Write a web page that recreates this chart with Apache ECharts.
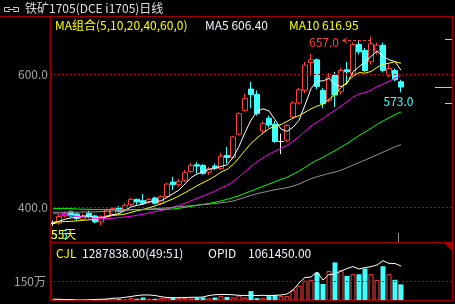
<!DOCTYPE html>
<html><head><meta charset="utf-8">
<script src="https://cdn.jsdelivr.net/npm/echarts@6/dist/echarts.min.js"></script>
<style>html,body{margin:0;padding:0;background:#000;}#c{width:455px;height:304px;}</style>
</head><body><div id="c"></div>
<script>
const categories = ['1','2','3','4','5','6','7','8','9','10','11','12','13','14','15','16','17','18','19','20','21','22','23','24','25','26','27','28','29','30','31','32','33','34','35','36','37','38','39','40','41','42','43','44','45','46','47','48','49','50','51','52','53','54','55','56','57','58','59'];
const opens  = [376,376,387,393,390,382,391,387,378,387, 389,399,395,404,412,410,408,414,406,416, 438,434,440,454,464,463,453,462,458,478, 475,510,546,578,570,515,534,525,499,501, 536,557,576,618,622,576,561,599,574,607, 601,645,636,619,635,644,599,606,589];
const closes = [376,386,391,387,383,387,386,378,386,396, 398,394,403,412,408,406,412,406,416,435, 434,439,452,463,462,451,458,459,477,475, 506,541,564,570,541,526,524,499,499,523, 557,577,614,622,582,556,596,569,606,604, 645,634,606,646,644,606,609,592,581];
const lows   = [372,374,385,385,380,380,383,376,373,385, 387,392,393,402,404,404,405,404,404,414, 426,431,438,452,451,449,449,456,456,466, 473,508,544,549,538,512,520,497,480,498, 533,555,572,598,578,549,558,551,570,586, 598,630,604,615,630,603,596,590,573];
const highs  = [380,390,394,395,392,390,395,389,388,398, 400,402,406,414,413,420,414,416,418,437, 446,443,456,467,468,465,461,466,482,491, 507,543,571,589,576,530,538,530,511,525, 560,580,619,631,624,580,602,604,610,619, 648,652,640,657,648,648,615,609,592];
const ma5  = [377,379,382,384,384.6,386.8,386.8,384.2,384,386.6, 388.8,390.4,395.4,400.6,403,404.6,408.2,408.8,409.6,415, 420.6,426,435.2,444.6,450,453.4,457.2,458.6,461.4,464, 475,491.6,512.6,531.2,544.4,548.4,545,532,517.8,514.2, 520.4,531,554,578.6,590.4,590.2,594,585,581.8,586.2, 604,611.6,619,627,635,627.2,622.2,619.4,606.4];
const ma10 = [377,378,378.5,379,379.5,380.5,381,382,383.5,385.6, 387.8,388.6,389.8,392.3,394.8,396.7,399.3,402.1,405.1,409, 412.6,417.1,422,427.1,432.5,437,441.6,446.9,453,457, 464.2,474.4,485.6,496.3,504.2,511.7,518.3,522.3,524.5,529.3, 534.4,538,543,548.2,552.3,555.3,562.5,569.5,580.2,588.3, 597.1,602.8,602,604.4,610.6,615.6,616.9,619.2,616.95];
const ma20 = [391,390,389,387.5,386,385,384,383.5,383,383, 383.5,384.5,385.5,386.5,388,389.5,391.5,393.3,395.2,397.3, 400.2,402.9,405.9,409.7,413.7,416.9,420.5,424.5,429.1,433, 438.4,445.8,453.8,461.7,468.4,474.4,480,484.6,488.8,493.2, 499.3,506.2,514.3,522.3,528.3,533.5,540.4,545.9,552.4,558.8, 565.8,570.4,572.5,576.3,581.5,585.5,589.7,594.4,598.5];
const ma40 = [398,398,398,398,397.5,397,397,396.5,396.5,396.5, 396.5,396.5,396.5,396.5,396.5,396.5,396.5,396.5,396.5,397, 397.5,398.5,400,401.5,403,404.5,406,407.5,409.5,412, 414.5,417.5,421,424.5,428,431.5,435,438.5,442,445.2, 449.8,454.5,460.1,466,471,475.2,480.4,485.2,490.7,495.9, 502.1,508.1,513.2,519,524.9,529.9,534.8,539.5,543.6];
const ma60 = [392.5,392.5,392.5,392.5,392.5,393,393,393,393.5,394, 394.5,395,395.5,396,396.5,397,397.5,398,398.5,399, 400,400.8,401.6,402.4,403.2,404,404.8,405.6,406.8,408, 409.5,412,415,418,420.5,422.5,424.5,426.5,428,429.5, 432,435,439,443,446,448.5,451,453,456,459.5, 463.5,467.5,471,475,479,483,487,491,494.5];
const volumes = [8,13,8,13,8,8,8,8,10,13, 18,13,10,20,15,25,15,15,20,25, 23,20,20,18,23,25,18,25,36,30, 25,41,25,76,20,20,36,43,36,36, 85,119,158,165,221,132,234,302,239,196, 209,209,254,209,165,272,209,165,128.78];
const openInterest = [42.9,42.7,42.3,41.7,41.3,41.3,41.7,42.3,42.7,43.2, 44.6,45.1,46.5,48,49.9,50.9,50.9,49.9,47.6,46.1, 45.7,45.7,46.1,46.5,46.5,47,49.9,51.4,51.8,51.8, 51.2,50.3,49.9,50.3,49.9,50.3,49.9,50.3,50.9,52.8, 60.4,73.7,84.2,85.1,94.7,79.4,89.9,90.9,96.6,101.3, 105.1,100.4,103.2,104.8,108,116.2,111.2,110.9,106.1];
const priceTicks = [400, 600];
const volumeTicks = [150];
const sideMarkPrices = [653, 581, 557];
const titleText = '铁矿1705(DCE i1705)日线';
const maLegendText = 'MA组合(5,10,20,40,60,0)';
const cjlValueText = '1287838.00(49:51)';
const opidValueText = '1061450.00';

const FONT = '"Noto Sans CJK SC", "Noto Sans", sans-serif';
const RED = '#ff4040', CYAN = '#40ffff', FRAME = '#a00000', DASH = '#b80000';
const padSlots = ['p1','p2','p3','p4','p5','p6','p7','p8'];
const xData = categories.concat(padSlots);

const candleData = categories.map((_, i) => [opens[i], closes[i], lows[i], highs[i]]);
const volData = volumes.map((v, i) => closes[i] >= opens[i]
  ? {value: v, itemStyle: {color: '#000', borderColor: RED, borderWidth: 1}}
  : {value: v, itemStyle: {color: CYAN, borderColor: CYAN, borderWidth: 0}});

const chart = echarts.init(document.getElementById('c'), null, {renderer: 'canvas'});
const maLine = (name, data, color) => ({
  name, type: 'line', xAxisIndex: 0, yAxisIndex: 0, data, symbol: 'none', showSymbol: false,
  lineStyle: {width: 1, color}, z: 5, silent: true
});
chart.setOption({
  backgroundColor: '#000',
  animation: false,
  textStyle: {fontFamily: FONT},
  grid: [
    {left: 50, right: 3, top: 16, height: 226.5},
    {left: 50, right: 3, top: 243, height: 57.7}
  ],
  xAxis: [
    {gridIndex: 0, type: 'category', data: xData, boundaryGap: true, show: false},
    {gridIndex: 1, type: 'category', data: xData, boundaryGap: true, show: false}
  ],
  yAxis: [
    {gridIndex: 0, min: 347, max: 688, show: false, splitLine: {show: false}},
    {gridIndex: 1, min: 0, max: 455.5, show: false, splitLine: {show: false}},
    {gridIndex: 1, min: 40, max: 150, show: false, splitLine: {show: false}}
  ],
  series: [
    {
      type: 'candlestick', xAxisIndex: 0, yAxisIndex: 0, data: candleData, barWidth: 5, z: 3, silent: true,
      itemStyle: {color: '#000', color0: CYAN, borderColor: RED, borderColor0: CYAN, borderColorDoji: '#ffffff', borderWidth: 1},
      markLine: {
        symbol: 'none', silent: true, animation: false,
        lineStyle: {color: DASH, type: [2, 2], width: 1},
        label: {position: 'start', distance: 2, color: '#a0a4a8', fontSize: 12, fontFamily: FONT,
                formatter: p => Number(p.value).toFixed(1)},
        data: priceTicks.map(v => ({yAxis: v}))
      }
    },
    maLine('MA5', ma5, '#ffffff'),
    maLine('MA10', ma10, '#ffff00'),
    maLine('MA20', ma20, '#ff00ff'),
    maLine('MA40', ma40, '#00ff00'),
    maLine('MA60', ma60, '#909090'),
    {
      type: 'bar', xAxisIndex: 1, yAxisIndex: 1, data: volData, barWidth: 5, silent: true, z: 3,
      markLine: {
        symbol: 'none', silent: true, animation: false,
        lineStyle: {color: DASH, type: [2, 2], width: 1},
        label: {position: 'start', distance: 4, color: '#a0a4a8', fontSize: 12, fontFamily: FONT,
                formatter: p => p.value + '万'},
        data: volumeTicks.map(v => ({yAxis: v}))
      }
    },
    {type: 'line', xAxisIndex: 1, yAxisIndex: 2, data: openInterest, symbol: 'none', showSymbol: false,
     lineStyle: {width: 1, color: '#ffffff'}, z: 5, silent: true}
  ]
});

const P = (i, v) => chart.convertToPixel({gridIndex: 0}, [i, v]);
const PV = (i, v) => chart.convertToPixel({xAxisIndex: 1, yAxisIndex: 1}, [i, v]);
const txt = (text, x, y, fill, align) => ({
  type: 'text', silent: true, z: 100,
  style: {text, x, y, fill, font: '12px ' + FONT, fontSize: 12, fontFamily: FONT,
          align: align || 'left', textAlign: align || 'left', verticalAlign: 'middle', textVerticalAlign: 'middle'}
});
const line = (x1, y1, x2, y2, stroke, dash) => ({
  type: 'line', silent: true, z: 90,
  shape: {x1, y1, x2, y2}, style: {stroke, lineWidth: 1, lineDash: dash || null}
});

let maxI = 0;
highs.forEach((h, i) => { if (h > highs[maxI]) maxI = i; });
const last = categories.length - 1;
const [hx, hy] = P(maxI, highs[maxI]);
const [lx, ly] = P(last, lows[last]);
const g = [];
// frame
g.push(line(0, 16.5, 452.5, 16.5, FRAME));
g.push(line(50.5, 16, 50.5, 301, FRAME));
g.push(line(452.5, 16, 452.5, 301, FRAME));
g.push(line(50, 242.5, 453, 242.5, FRAME));
g.push(line(50, 300.5, 453, 300.5, FRAME));
g.push({type: 'polygon', silent: true, z: 95, shape: {points: [[444, 243], [453, 243], [453, 252]]}, style: {fill: FRAME}});
// title icon
g.push({type: 'polyline', silent: true, z: 100, shape: {points: [[10, 7.5], [4.5, 7.5], [4.5, 11.5], [10, 11.5]]}, style: {stroke: '#c8c8c8', lineWidth: 1, fill: null}});
g.push({type: 'polyline', silent: true, z: 100, shape: {points: [[13, 7.5], [18.5, 7.5], [18.5, 11.5], [13, 11.5]]}, style: {stroke: '#c8c8c8', lineWidth: 1, fill: null}});
g.push(line(8, 9.5, 15, 9.5, '#c8c8c8'));
g.push(txt(titleText, 25, 8.5, '#e0e0e0'));
// MA legend
g.push(txt(maLegendText, 55, 25.5, '#ffff00'));
g.push(txt('MA5 ' + ma5[last].toFixed(2), 205, 25.5, '#f0f4ff'));
g.push(txt('MA10 ' + ma10[last].toFixed(2), 289, 25.5, '#ffff00'));
// volume legend
g.push(txt('CJL', 56, 253, '#ffff00'));
g.push(txt(cjlValueText, 82, 253, '#f0f4ff'));
g.push(txt('OPID', 208, 253, '#f0f4ff'));
g.push(txt(opidValueText, 248, 253, '#f0f4ff'));
// bottom-left marker
g.push(txt('5.5', 51, 234, CYAN));
g.push(txt('55天', 51, 234, '#ffff00'));
// max label
g.push(txt(highs[maxI].toFixed(1), hx - 32, hy + 5.5, RED, 'right'));
g.push({type: 'polyline', silent: true, z: 100, shape: {points: [[hx - 24, hy + 1.5], [hx - 28.5, hy + 4], [hx - 24, hy + 6.5]]}, style: {stroke: RED, lineWidth: 1, fill: null}});
g.push(line(hx - 28, hy + 4, hx - 1, hy + 4, RED, [3, 2]));
// low label
g.push(txt(lows[last].toFixed(1), lx - 2.5, ly + 9.5, CYAN, 'center'));
// side marks
const sideLens = [7, 17, 7];
sideMarkPrices.forEach((p, i) => {
  const y = Math.round(P(last, p)[1]) + 0.5;
  g.push(line(452 - sideLens[i], y, 452, y, '#e0e000'));
});
// cursor
const cx = Math.round(lx - 3) + 0.5;
g.push(line(cx, 233, cx, 242, '#909090'));
const vTop = PV(last, volumes[last])[1];
g.push(line(cx, vTop, cx, 300, '#909090'));
chart.setOption({graphic: g});
</script>
</body></html>
